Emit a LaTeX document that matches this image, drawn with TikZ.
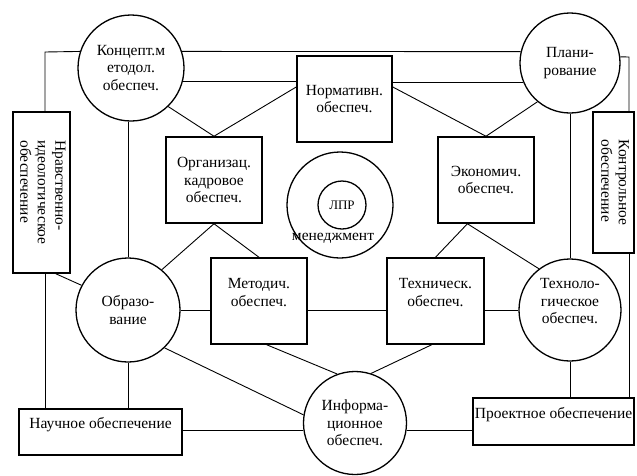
\documentclass[tikz,border=0pt]{standalone}
\usepackage{fontspec}
\setmainfont{Liberation Serif}
\usepackage{graphicx}
\usetikzlibrary{positioning}

\tikzset{
	kvadr/.style={draw,rectangle,line width=1.5pt,inner sep=0pt,align=center},
	krug/.style={draw,circle,line width=1.3pt,inner sep=0pt,align=center},
}
\newcommand{\stolbec}[1]{\rotatebox{-90}{\begin{tabular}{@{}l@{}}#1\end{tabular}}}

\begin{document}
\begin{tikzpicture}[x=1pt,y=-1pt,on grid,line width=0.9pt,font=\fontsize{15.5}{17.5}\selectfont]
		\useasboundingbox (0,0) rectangle (637,475);
		\node[krug,minimum size=106pt] (konc) at (131,68) {Концепт.м\\етодол.\\обеспеч.};
		\node[krug,minimum size=100pt] (plan) [above right=5pt and 439pt of konc] {Плани-\\рование};
		\node[kvadr,minimum width=95pt,minimum height=86pt] (norm) at (344.5,99) {Нормативн.\\обеспеч.};
		\node[kvadr,minimum width=96pt,minimum height=86pt] (org) at (214,180) {Организац.\\кадровое\\обеспеч.};
		\node[kvadr,minimum width=96pt,minimum height=86pt] (econ) [right=272pt of org] {Экономич.\\обеспеч.};
		\node[krug,minimum size=106pt] (mgmt) at (340,205) {};
		\node[krug,minimum size=48pt,font=\fontsize{13}{15}\selectfont] (lpr) [right=2pt of mgmt] {ЛПР};
		\node (mgmtlbl) [below left=33pt and 7pt of mgmt] {менеджмент};
		\node[krug,minimum size=104pt] (obr) at (128,310) {Образо-\\вание};
		\node[kvadr,minimum width=96pt,minimum height=86pt] (metod) at (259,301) {Методич.\\обеспеч.\\\mbox{}};
		\node[kvadr,minimum width=97pt,minimum height=86pt] (tech) [right=176.5pt of metod] {Техническ.\\обеспеч.\\\mbox{}};
		\node[krug,minimum size=102pt] (techno) at (570,310) {Техноло-\\гическое\\обеспеч.\\\mbox{}};
		\node[krug,minimum size=103pt] (info) at (355,423) {Информа-\\ционное\\обеспеч.};
		\node[kvadr,minimum width=163pt,minimum height=46pt] (nauch) at (100.5,432) {Научное обеспечение\\\mbox{}};
		\node[kvadr,minimum width=161pt,minimum height=47pt] (proekt) at (553.5,421.5) {Проектное обеспечение\\\mbox{}};
		\node[kvadr,minimum width=57pt,minimum height=161pt] (nrav) at (41.5,192.5) {\stolbec{Нравственно-\\идеологическое\\обеспечение}};
		\node[kvadr,minimum width=41pt,minimum height=141pt] (kontr) at (613.5,182.5) {\stolbec{Контрольное\\обеспечение}};
		\coordinate (tl) at (45,52);
		\coordinate (tr) at (629,57);
		% outer frame
		\draw (nrav.north -| tl) -- (tl) -- (konc.162);
		\draw (konc.18) -- (plan.167);
		\draw (plan.7) -- (tr) -- (tr |- kontr.north);
		\draw (nrav.south -| tl) -- (nauch.north -| tl);
		\draw (tr |- kontr.south) -- (tr |- proekt.north);
		% upper part
		\draw (konc.-15) -- (konc.-15 -| norm.west);
		\draw (plan.202) -- (plan.202 -| norm.east);
		\draw (konc.-46) -- (org.north) -- (norm.166);
		\draw (norm.14) -- (econ.north) -- (plan.230);
		\draw (konc.south -| obr) -- (obr.north);
		\draw (plan.south) -- (techno.north);
		% middle row
		\draw (nrav.-80) -- (obr.152);
		\draw (obr.50) -- (org.south) -- (metod.north);
		\draw (tech.north) -- (econ.247) -- (techno.127);
		\draw (obr.east) -- (obr.east -| metod.west)
			(metod.east |- obr.east) -- (tech.west |- obr.east)
			(tech.east |- techno.west) -- (techno.west);
		% lower part
		\draw (obr.south) -- (obr.south |- nauch.north);
		\draw (obr.-46) -- (info.171);
		\draw (metod.-80) -- (info.110);
		\draw (tech.-95) -- (info.72);
		\draw (info.188 -| nauch.east) -- (info.188);
		\draw (info.-8) -- (info.-8 -| proekt.west);
		\draw (techno.south) -- (techno.south |- proekt.north);
	\end{tikzpicture}
\end{document}
